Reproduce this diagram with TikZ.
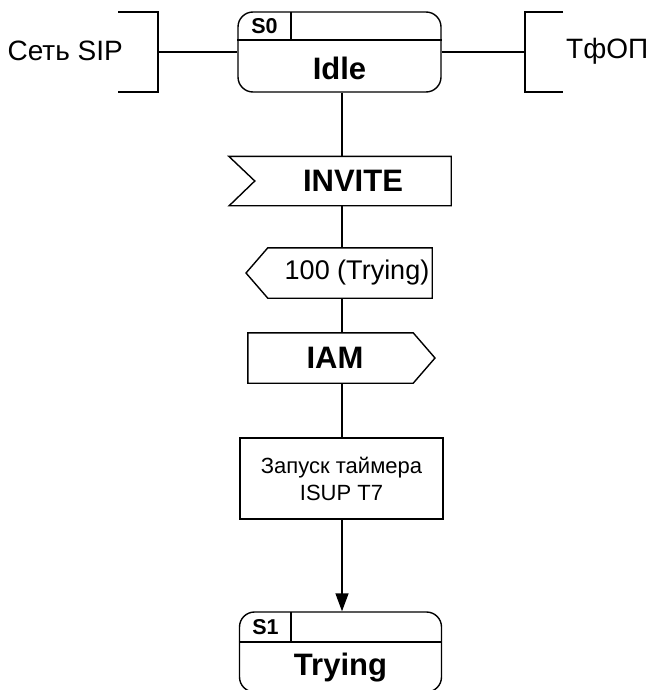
\documentclass[tikz,border=0pt]{standalone}
\usepackage{fontspec}
\setmainfont{Liberation Sans}
\usetikzlibrary{arrows.meta}
\tikzset{
  ln/.style={line width=1.4pt, line join=miter},
  state/.style={draw, line width=1.4pt, rounded corners=15pt, inner sep=0pt},
  box/.style={draw=none, inner sep=0pt},
  bigbold/.style={font=\fontsize{31}{36}\selectfont\bfseries},
  smallbold/.style={font=\fontsize{21.5}{24}\selectfont\bfseries},
  envtext/.style={font=\fontsize{28}{32}\selectfont},
  sigtext/.style={font=\fontsize{27}{32}\selectfont},
  tasktext/.style={font=\fontsize{22}{27}\selectfont, align=center},
  arr/.style={line width=1.4pt, -{Triangle[length=18pt,width=13pt]}}
}
\begin{document}
\begin{tikzpicture}[x=1pt,y=-1pt]
\useasboundingbox (0,0) rectangle (654,690);
\coordinate (trunk) at (342,0);
\coordinate (h0) at (0,40);
\coordinate (h1) at (0,642);

% environment brackets
\draw[ln] (118,12) -- (158,12) -- (158,92) -- (118,92);
\coordinate (lb) at (158,52);
\node[envtext, anchor=east, inner sep=0pt] (sip) at (123,51) {Сеть SIP};
\draw[ln] (563,12) -- (525,12) -- (525,92) -- (563,92);
\coordinate (rb) at (525,52);
\node[envtext, anchor=west, inner sep=0pt] (pstn) at (566,51) {ТфОП};

% start state
\node[state, minimum width=203, minimum height=80] (s0) at (339.5,52) {};
\draw[ln] (s0.west |- h0) -- (s0.east |- h0);
\draw[ln] (291,12) -- (291,40);
\node[smallbold] (s0n) at (264.5,26) {S0};
\node[bigbold] (idle) at (339.5,68) {Idle};
\draw[ln] (lb) -- (s0.west);
\draw[ln] (s0.east) -- (rb);

% INVITE input signal
\node[box, minimum width=196, minimum height=49, bigbold] (invite) at (353,181) {INVITE};
\draw[ln] (invite.north east) -- (invite.south east) -- ++(-222,0) -- (invite.west) -- ([xshift=-26pt]invite.north west) -- cycle;

% 100 (Trying) output signal
\node[box, minimum width=164, minimum height=50] (tr) at (350,273) {};
\node[sigtext] (trt) at (357,273) {100 (Trying)};
\draw[ln] (tr.north west) -- (tr.north east) -- (tr.south east) -- (tr.south west) -- (246,273) -- cycle;

% IAM output signal
\node[box, minimum width=165, minimum height=50] (iam) at (330.5,358) {};
\node[bigbold] (iamt) at (335,358) {IAM};
\draw[ln] (iam.north west) -- (iam.north east) -- (435,358) -- (iam.south east) -- (iam.south west) -- cycle;

% task
\node[draw, line width=1.4pt, minimum width=203, minimum height=81, inner sep=0pt, tasktext] (task) at (341.5,478.5) {Запуск таймера\\ISUP T7};

% next state
\node[state, minimum width=202, minimum height=80] (s1) at (340.5,652) {};
\draw[ln] (s1.west |- h1) -- (s1.east |- h1);
\draw[ln] (291,612) -- (291,642);
\node[smallbold] (s1n) at (265.5,627) {S1};
\node[bigbold] (trying) at (340.5,668) {Trying};

% connectors
\draw[ln] (s0.south -| trunk) -- (invite.north -| trunk);
\draw[ln] (invite.south -| trunk) -- (tr.north -| trunk);
\draw[ln] (tr.south -| trunk) -- (iam.north -| trunk);
\draw[ln] (iam.south -| trunk) -- (task.north -| trunk);
\draw[arr] (task.south -| trunk) -- (s1.north -| trunk);
\end{tikzpicture}
\end{document}
